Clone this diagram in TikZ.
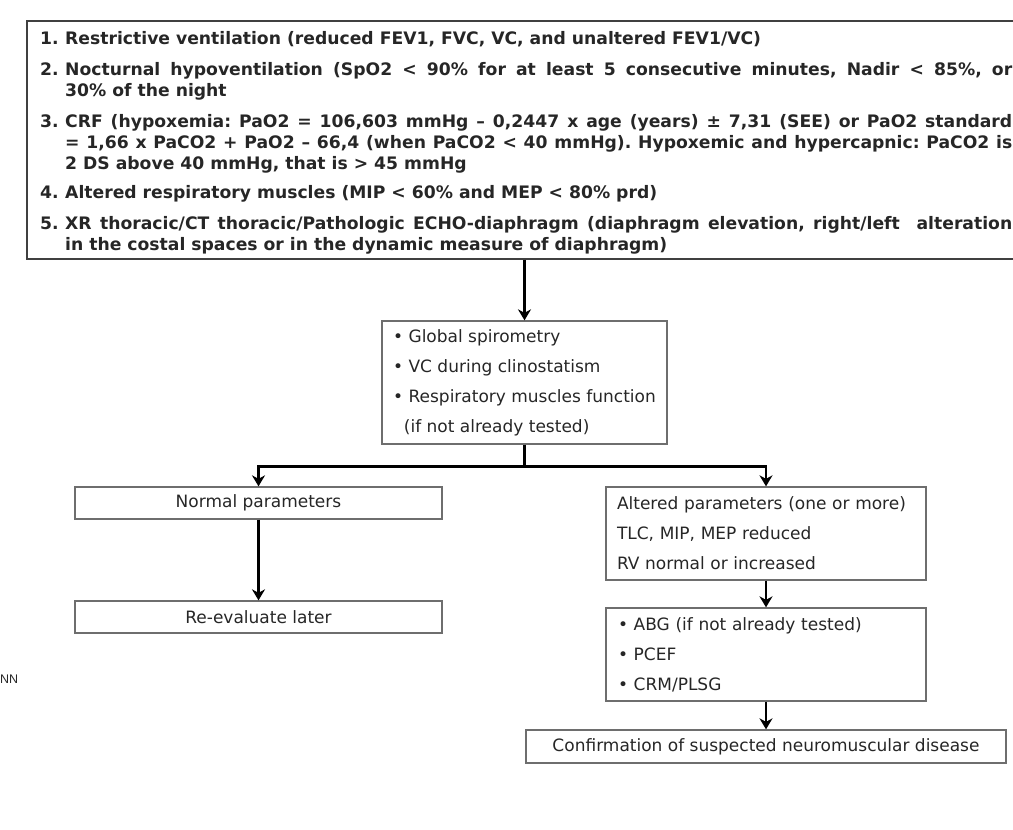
\documentclass[tikz,border=0pt]{standalone}
\usepackage{fontspec}
\setmainfont{DejaVu Sans}
\newfontfamily\straysans{Liberation Sans}
\usepackage{tikz}
\usepackage{xcolor}
\usetikzlibrary{arrows.meta,calc}

\definecolor{boxgray}{HTML}{6E6E6E}
\definecolor{textgray}{HTML}{262626}

\begin{document}
\frenchspacing
\begin{tikzpicture}[x=1pt,y=-1pt,
    box/.style={draw=boxgray, line width=1.3pt, minimum width=#1, text=textgray,
      font=\fontsize{17}{30}\selectfont},
    listbox/.style={box=320pt, align=left, minimum height=93pt},
    item/.style={anchor=base west, inner sep=0pt, text width=972pt, align=justify,
      text=textgray, font=\fontsize{17.2}{21}\selectfont\bfseries},
    arr/.style={line width=2.7pt, -{Stealth[length=11pt,width=13pt,inset=3.5pt]}},
    link/.style={line width=2.7pt}]
				\useasboundingbox (0,0) rectangle (1013,830);
				\clip (0,0) rectangle (1013,830);
				
				% Criteria box (runs past the right edge)
				\node[draw=black!75, line width=1.3pt, minimum width=1003pt, minimum height=238pt]
				  (criteria) at (528.5,140) {};
				
				% Criteria items
				\node[item] (crit1) at (40,44) {\hangindent=25pt\hangafter=1\noindent\makebox[25pt][l]{1.}Restrictive ventilation (reduced FEV1, FVC, VC, and unaltered FEV1/VC)\par};
				\node[item] (crit2) at (40,75) {\hangindent=25pt\hangafter=1\noindent\makebox[25pt][l]{2.}Nocturnal hypoventilation (SpO2 < 90\% for at least 5 consecutive minutes, Nadir < 85\%, or\linebreak 30\% of the night\par};
				\node[item] (crit3) at (40,127) {\hangindent=25pt\hangafter=1\noindent\makebox[25pt][l]{3.}CRF (hypoxemia: PaO2 = 106,603 mmHg – 0,2447 x age (years) ± 7,31 (SEE) or PaO2 standard\linebreak = 1,66 x PaCO2 + PaO2 – 66,4 (when PaCO2 < 40 mmHg). Hypoxemic and hypercapnic: PaCO2 is\linebreak 2 DS above 40 mmHg, that is > 45 mmHg\par};
				\node[item] (crit4) at (40,198) {\hangindent=25pt\hangafter=1\noindent\makebox[25pt][l]{4.}Altered respiratory muscles (MIP < 60\% and MEP < 80\% prd)\par};
				\node[item] (crit5) at (40,229) {\hangindent=25pt\hangafter=1\noindent\makebox[25pt][l]{5.}XR thoracic/CT thoracic/Pathologic ECHO-diaphragm (diaphragm elevation, right/left~ alteration\linebreak in the costal spaces or in the dynamic measure of diaphragm)\par};
				
				% Tests
				\node[box=285pt, align=left, minimum height=123pt] (global) at (524.5,382.5)
				  {• Global spirometry\\ • VC during clinostatism\\ • Respiratory muscles function\\ \ \ (if not already tested)};
				\coordinate (split) at ($(global.south)+(0,22)$);
				
				% Normal branch
				\node[box=367pt, minimum height=32pt] (normal) at (258.5,503) {Normal parameters};
				\node[box=367pt, minimum height=32pt] (reeval) at (258.5,617) {Re-evaluate later};
				
				% Altered branch
				\node[listbox, text width=298pt, inner xsep=11pt] (altered) at (766,533.5)
				  {Altered parameters (one or more)\\ TLC, MIP, MEP reduced\\ RV normal or increased};
				\node[listbox, text width=296pt, inner xsep=12pt] (abg) at (766,654.5)
				  {• ABG (if not already tested)\\ • PCEF\\ • CRM/PLSG};
				\node[box=480pt, minimum height=33pt] (confirm) at (766,746.5)
				  {Confirmation of suspected neuromuscular disease};
				
				% Stray label at the left edge
				\node[anchor=west, inner sep=0pt, text=textgray, font=\straysans\fontsize{12.5}{12.5}\selectfont] (stray) at (0,679) {NN};
				
				% Arrows
				\draw[arr] (criteria.south -| global.north) -- (global.north);
				\draw[link] (global.south) -- (split);
				\draw[arr] (split) -| (normal.north);
				\draw[arr] (split) -| (altered.north);
				\draw[arr] (normal.south) -- (reeval.north);
				\draw[arr] (altered.south) -- (abg.north);
				\draw[arr] (abg.south) -- (confirm.north);
			\end{tikzpicture}
\end{document}
